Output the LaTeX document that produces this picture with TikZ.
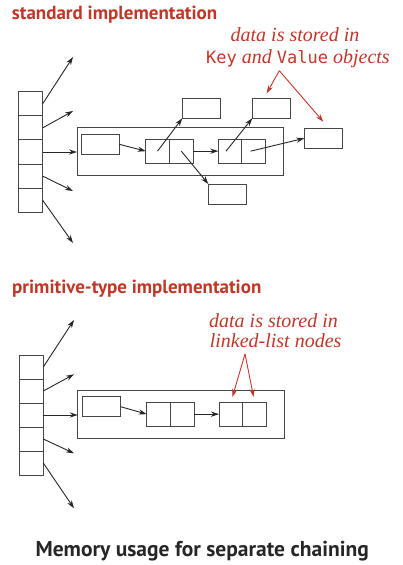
\documentclass[tikz,border=0pt]{standalone}
\usepackage{fontspec}
\setmainfont{Liberation Serif}
\newfontfamily\titlefont{PT Sans}
\newfontfamily\codefont{DejaVu Sans Mono}
\usetikzlibrary{arrows.meta}
\definecolor{accent}{RGB}{192,54,40}
\definecolor{boxgray}{RGB}{70,70,70}
\begin{document}
\begin{tikzpicture}[x=1pt,y=-1pt,
  cell/.style={draw=boxgray, line width=0.9pt, inner sep=0pt, outer sep=0pt, anchor=north west},
  link/.style={draw=black!85, line width=0.9pt, -{Stealth[length=8pt,width=5.2pt]}},
  redlink/.style={draw=accent, line width=0.9pt, -{Stealth[length=8pt,width=5.2pt]}},
  heading/.style={text=accent, font=\titlefont\bfseries\fontsize{19}{22}\selectfont, inner sep=0pt, anchor=base west},
  note/.style={text=accent, font=\fontsize{20}{24}\selectfont\itshape, inner sep=0pt, anchor=base},
  caption/.style={text=black!85, font=\titlefont\bfseries\fontsize{21.5}{25}\selectfont, inner sep=0pt, anchor=base}]
\useasboundingbox (0,0) rectangle (403,565);

% ---------------- standard implementation ----------------
\node[heading] (t1) at (11.7,19.3) {standard implementation};

\foreach \i in {1,...,5} {
  \node[cell, minimum width=24.4pt, minimum height=24.12pt] (a\i) at (18.3,{91.7+24.12*(\i-1)}) {};
}
\coordinate (e1) at (73,57);
\coordinate (e2) at (73,111);
\coordinate (e4) at (73,191);
\coordinate (e5) at (73,243);

\node[cell, minimum width=206.3pt, minimum height=47.3pt] (outer) at (77,127.7) {};
\node[cell, minimum width=37.6pt, minimum height=20pt] (hd) at (81.7,134.3) {};
\node[cell, minimum width=23.6pt, minimum height=24.3pt] (n1a) at (145.7,139) {};
\node[cell, minimum width=24pt, minimum height=24.3pt] (n1b) at (169.3,139) {};
\node[cell, minimum width=23.4pt, minimum height=24.3pt] (n2a) at (218.3,139) {};
\node[cell, minimum width=24pt, minimum height=24.3pt] (n2b) at (241.7,139) {};
\node[cell, minimum width=38.4pt, minimum height=20pt] (k1) at (182.3,98.3) {};
\node[cell, minimum width=37.7pt, minimum height=20pt] (v1) at (208.3,184) {};
\node[cell, minimum width=37.7pt, minimum height=20pt] (k2) at (252.3,98.3) {};
\node[cell, minimum width=38pt, minimum height=20pt] (v2) at (304.3,128.3) {};

\draw[link] (a1.east) -- (e1);
\draw[link] (a2.east) -- (e2);
\draw[link] (a3.east) -- (a3.east -| outer.west);
\draw[link] (a4.east) -- (e4);
\draw[link] (a5.east) -- (e5);

\draw[link] (hd.east) -- (n1a.west);
\draw[link] (n1b.east) -- (n2a.west);
\draw[link] (n1a.center) -- (k1.south west);
\draw[link] (n1b.center) -- (v1.north west);
\draw[link] ([xshift=-4pt]n2a.center) -- (k2.south west);
\draw[link] ([xshift=-3pt]n2b.center) -- (v2.west);

\node[note] (m1) at (295,41.7) {data is stored in};
\node[note] (m2) at (298,63) {{\codefont\upshape\fontsize{17}{20}\selectfont Key} and {\codefont\upshape\fontsize{17}{20}\selectfont Value} objects};
\coordinate (s1) at (279.3,70.7);
\coordinate (d1) at (266.7,93.3);
\coordinate (d2) at (323.3,121.7);
\draw[redlink] (s1) -- (d1);
\draw[redlink] (s1) -- (d2);

% ---------------- primitive-type implementation ----------------
\node[heading] (t2) at (12,293.3) {primitive-type implementation};

\foreach \i in {1,...,5} {
  \node[cell, minimum width=24pt, minimum height=24pt] (b\i) at (19.3,{355+24*(\i-1)}) {};
}
\coordinate (f1) at (74,320);
\coordinate (f2) at (74,374.3);
\coordinate (f4) at (74,453.3);
\coordinate (f5) at (74,508.3);

\node[cell, minimum width=206.6pt, minimum height=47.6pt] (outerb) at (77.7,390.7) {};
\node[cell, minimum width=38pt, minimum height=20pt] (hdb) at (82.7,396.7) {};
\node[cell, minimum width=24pt, minimum height=23.7pt] (p1a) at (146.7,402.3) {};
\node[cell, minimum width=23.6pt, minimum height=23.7pt] (p1b) at (170.7,402.3) {};
\node[cell, minimum width=23.7pt, minimum height=23.7pt] (p2a) at (219,402.3) {};
\node[cell, minimum width=24pt, minimum height=23.7pt] (p2b) at (242.7,402.3) {};

\draw[link] (b1.east) -- (f1);
\draw[link] (b2.east) -- (f2);
\draw[link] (b3.east) -- (b3.east -| outerb.west);
\draw[link] (b4.east) -- (f4);
\draw[link] (b5.east) -- (f5);

\draw[link] (hdb.east) -- (p1a.west);
\draw[link] (p1b.east) -- (p2a.west);

\node[note] (m3) at (273.5,327.3) {data is stored in};
\node[note] (m4) at (275.6,347.3) {linked-list nodes};
\coordinate (s2) at (245,354);
\draw[redlink, shorten >=5.6pt] (s2) -- (p2a.north);
\draw[redlink, shorten >=5.6pt] (s2) -- (p2b.north);

% ---------------- caption ----------------
\node[caption] (cap) at (202.2,556.7) {Memory usage for separate chaining};
\end{tikzpicture}
\end{document}
